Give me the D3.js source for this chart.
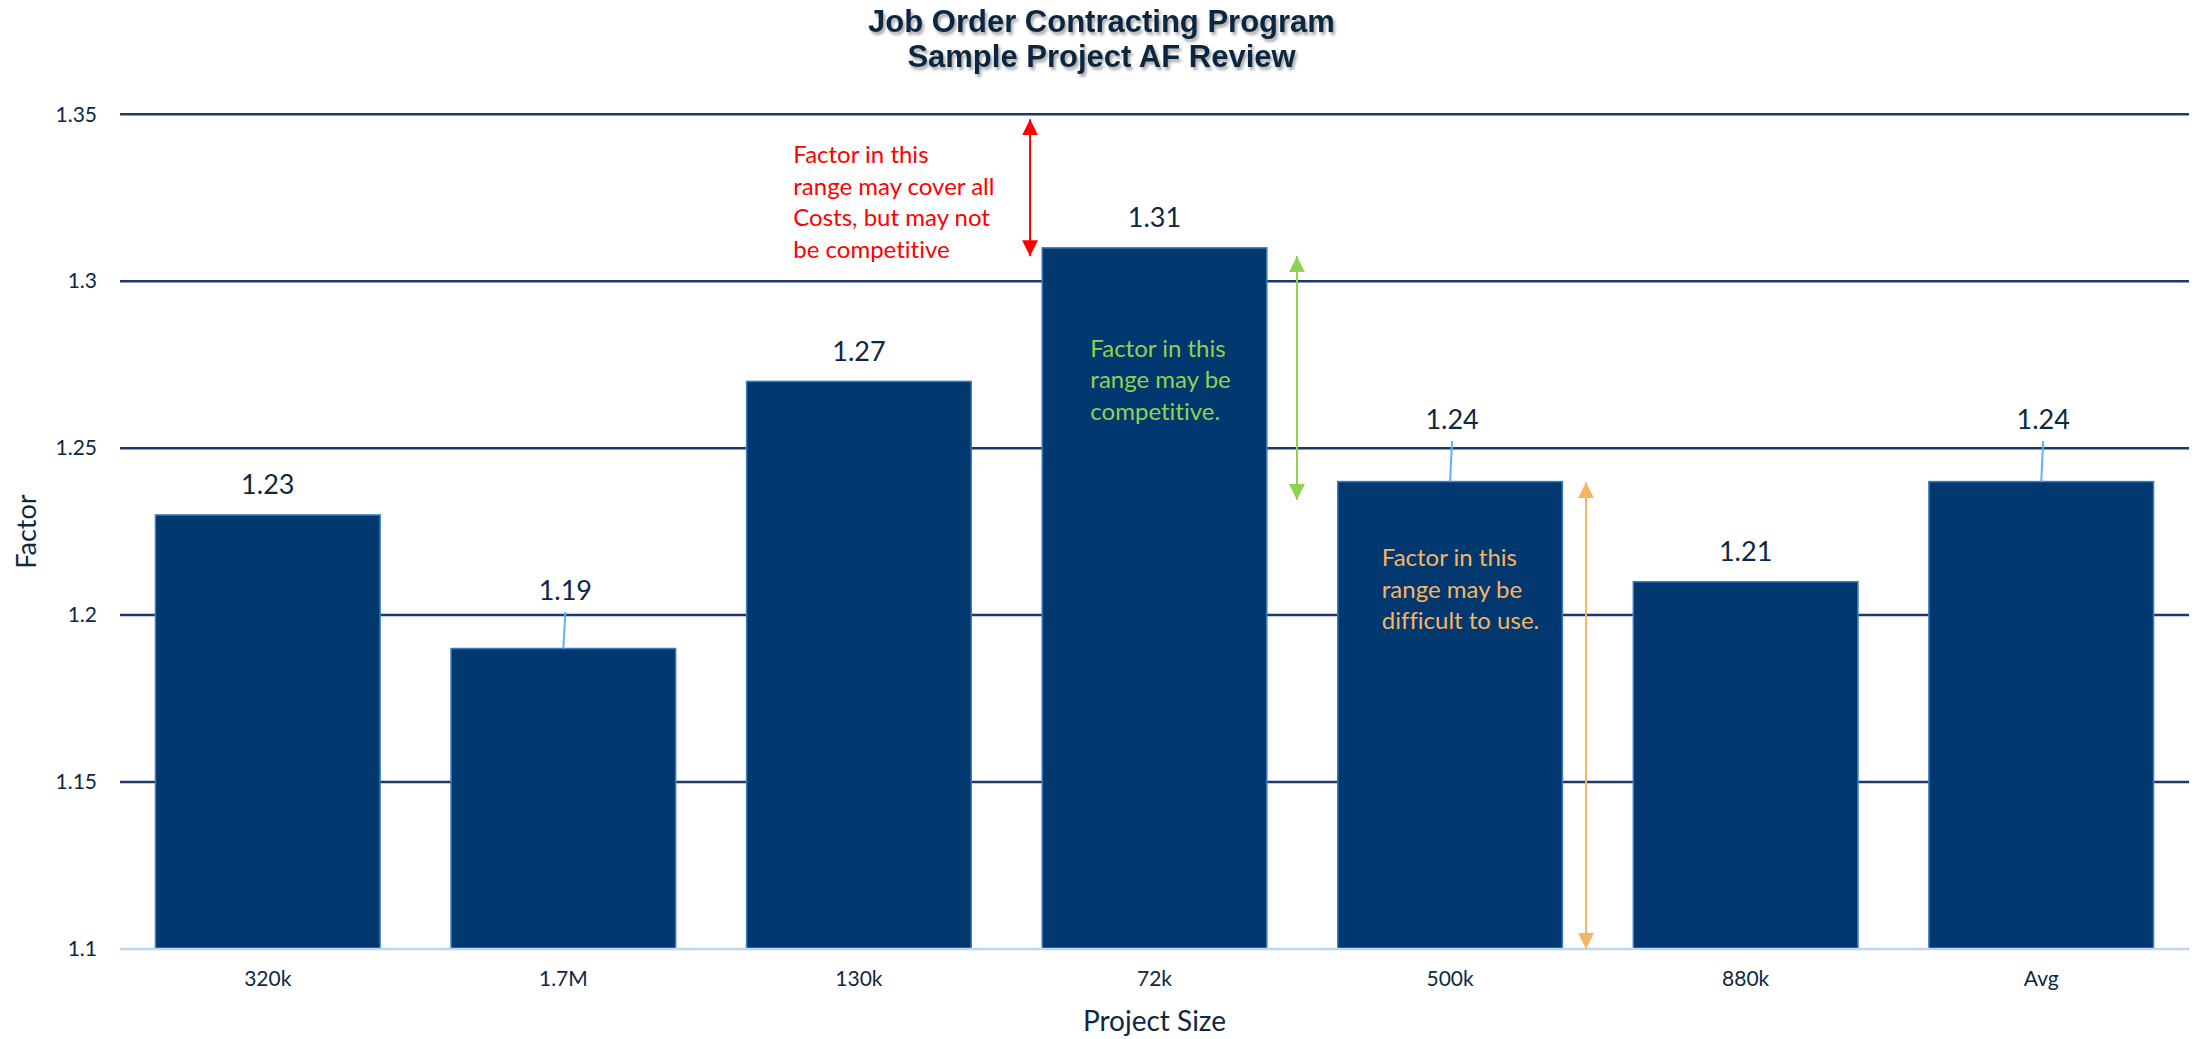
<!DOCTYPE html>
<html>
<head>
<meta charset="utf-8">
<script src="https://cdn.jsdelivr.net/npm/d3@7"></script>
<style>
  body { margin: 0; background: #fff; }
  svg { display: block; font-family: Lato, "Open Sans", sans-serif; font-variant-ligatures: none; font-feature-settings: "liga" 0; }
</style>
</head>
<body>
<svg id="chart" width="2199" height="1039"></svg>
<script>
// chart data
const categories = ["320k", "1.7M", "130k", "72k", "500k", "880k", "Avg"];
const factors = [1.23, 1.19, 1.27, 1.31, 1.24, 1.21, 1.24];
// where a value label was dragged up (in factor units), null = default spot
const labelAt = [null, 1.2045, null, null, 1.2557, null, 1.2557];
const yTicks = [1.1, 1.15, 1.2, 1.25, 1.3, 1.35];

// range notes: arrow from..to (factor units), anchor category, offsets in steps
const notes = [
  { cat: "72k", arrowX: -0.421, from: 1.3485, to: 1.3075, textX: -1.222, textY: 1.3354, color: "#ff0000",
    lines: ["Factor in this", "range may cover all", "Costs, but may not", "be competitive"] },
  { cat: "72k", arrowX: 0.482, from: 1.3075, to: 1.2345, textX: -0.217, textY: 1.2774, color: "#92d050",
    lines: ["Factor in this", "range may be", "competitive."] },
  { cat: "500k", arrowX: 0.46, from: 1.2398, to: 1.1, textX: -0.231, textY: 1.2147, color: "#f8b365",
    lines: ["Factor in this", "range may be", "difficult to use."] }
];

const svg = d3.select("#chart");
const W = 2199, H = 1039;
const margin = { top: 114.3, right: 10, bottom: 90, left: 120 };
const ink = "#0e2841";

const x = d3.scaleBand()
  .domain(categories)
  .range([margin.left, W - margin.right])
  .paddingInner(0.24)
  .paddingOuter(0.12);

const y = d3.scaleLinear()
  .domain([1.1, 1.35])
  .range([H - margin.bottom, margin.top]);

// arrow heads
const defs = svg.append("defs");
notes.forEach((n, i) => {
  defs.append("marker")
    .attr("id", "head" + i)
    .attr("viewBox", "0 0 10 10")
    .attr("refX", 10).attr("refY", 5)
    .attr("markerUnits", "userSpaceOnUse")
    .attr("markerWidth", 16).attr("markerHeight", 16)
    .attr("orient", "auto-start-reverse")
    .append("path")
    .attr("d", "M0,0 L10,5 L0,10 Z")
    .attr("fill", n.color);
});
const shadow = defs.append("filter").attr("id", "shadow")
  .attr("x", "-5%").attr("y", "-20%").attr("width", "110%").attr("height", "150%");
shadow.append("feDropShadow")
  .attr("dx", 2).attr("dy", 3).attr("stdDeviation", 1.6)
  .attr("flood-color", "#000").attr("flood-opacity", 0.35);

// grid lines
svg.append("g")
  .selectAll("line")
  .data(yTicks.filter(t => t > 1.1))
  .join("line")
  .attr("x1", margin.left).attr("x2", W - margin.right)
  .attr("y1", d => y(d)).attr("y2", d => y(d))
  .attr("stroke", "#1f3869")
  .attr("stroke-width", 2.5);

// y axis labels
const yAxis = svg.append("g")
  .attr("transform", `translate(${margin.left},0)`)
  .call(d3.axisLeft(y).tickValues(yTicks).tickSize(0).tickPadding(23)
    .tickFormat(d => String(+d.toFixed(2))));
yAxis.select(".domain").remove();
yAxis.selectAll("text")
  .attr("font-family", "Lato, sans-serif")
  .attr("font-size", 21)
  .attr("fill", ink);

// bars
svg.append("g")
  .selectAll("rect")
  .data(factors)
  .join("rect")
  .attr("x", (d, i) => x(categories[i]))
  .attr("y", d => y(d))
  .attr("width", x.bandwidth())
  .attr("height", d => y(1.1) - y(d))
  .attr("fill", "#00386f")
  .attr("stroke", "#3a7cc2")
  .attr("stroke-width", 1.5);

// x axis line + labels
svg.append("line")
  .attr("x1", margin.left).attr("x2", W - margin.right)
  .attr("y1", y(1.1)).attr("y2", y(1.1))
  .attr("stroke", "#bdd7ee").attr("stroke-width", 2.5);

const xAxis = svg.append("g")
  .attr("transform", `translate(0,${y(1.1)})`)
  .call(d3.axisBottom(x).tickSize(0).tickPadding(22));
xAxis.select(".domain").remove();
xAxis.selectAll("text")
  .attr("font-family", "Lato, sans-serif")
  .attr("font-size", 21)
  .attr("fill", ink);

// value labels with leader lines for the moved ones
const cx = i => x(categories[i]) + x.bandwidth() / 2;
const labY = (d, i) => labelAt[i] == null ? y(d) - 20.6 : y(labelAt[i]);

svg.append("g")
  .selectAll("line")
  .data(factors.map((d, i) => i).filter(i => labelAt[i] != null))
  .join("line")
  .attr("x1", i => cx(i) + 2).attr("y1", i => y(labelAt[i]) + 12)
  .attr("x2", i => cx(i)).attr("y2", i => y(factors[i]))
  .attr("stroke", "#5fb0f7").attr("stroke-width", 2);

svg.append("g")
  .selectAll("text")
  .data(factors)
  .join("text")
  .attr("x", (d, i) => cx(i) + (labelAt[i] == null ? 0 : 2))
  .attr("y", labY)
  .attr("text-anchor", "middle")
  .attr("font-size", 27)
  .attr("fill", ink)
  .text(d => d.toFixed(2));

// range notes
notes.forEach((n, i) => {
  const base = x(n.cat) + x.bandwidth() / 2;
  svg.append("line")
    .attr("x1", base + n.arrowX * x.step()).attr("x2", base + n.arrowX * x.step())
    .attr("y1", y(n.from)).attr("y2", y(n.to))
    .attr("stroke", n.color).attr("stroke-width", 2)
    .attr("marker-start", `url(#head${i})`)
    .attr("marker-end", `url(#head${i})`);
  svg.append("text")
    .attr("x", base + n.textX * x.step())
    .attr("y", y(n.textY))
    .attr("font-size", 24)
    .attr("fill", n.color)
    .selectAll("tspan")
    .data(n.lines)
    .join("tspan")
    .attr("x", base + n.textX * x.step())
    .attr("dy", (d, j) => j === 0 ? 0 : 31.6)
    .text(d => d);
});

// titles
const title = svg.append("text")
  .attr("x", W / 2 + 2)
  .attr("text-anchor", "middle")
  .attr("font-family", "'Liberation Sans', Arial, sans-serif")
  .attr("font-weight", "bold")
  .attr("font-size", 31)
  .attr("fill", ink)
  .attr("filter", "url(#shadow)");
title.append("tspan").attr("x", W / 2 + 2).attr("y", 32).text("Job Order Contracting Program");
title.append("tspan").attr("x", W / 2 + 2).attr("y", 67).text("Sample Project AF Review");

svg.append("text")
  .attr("x", (margin.left + W - margin.right) / 2)
  .attr("y", 1031)
  .attr("text-anchor", "middle")
  .attr("font-size", 28)
  .attr("fill", ink)
  .text("Project Size");

svg.append("text")
  .attr("transform", `translate(36,${(y(1.1) + y(1.35)) / 2}) rotate(-90)`)
  .attr("text-anchor", "middle")
  .attr("font-size", 27)
  .attr("fill", ink)
  .text("Factor");
</script>
</body>
</html>
